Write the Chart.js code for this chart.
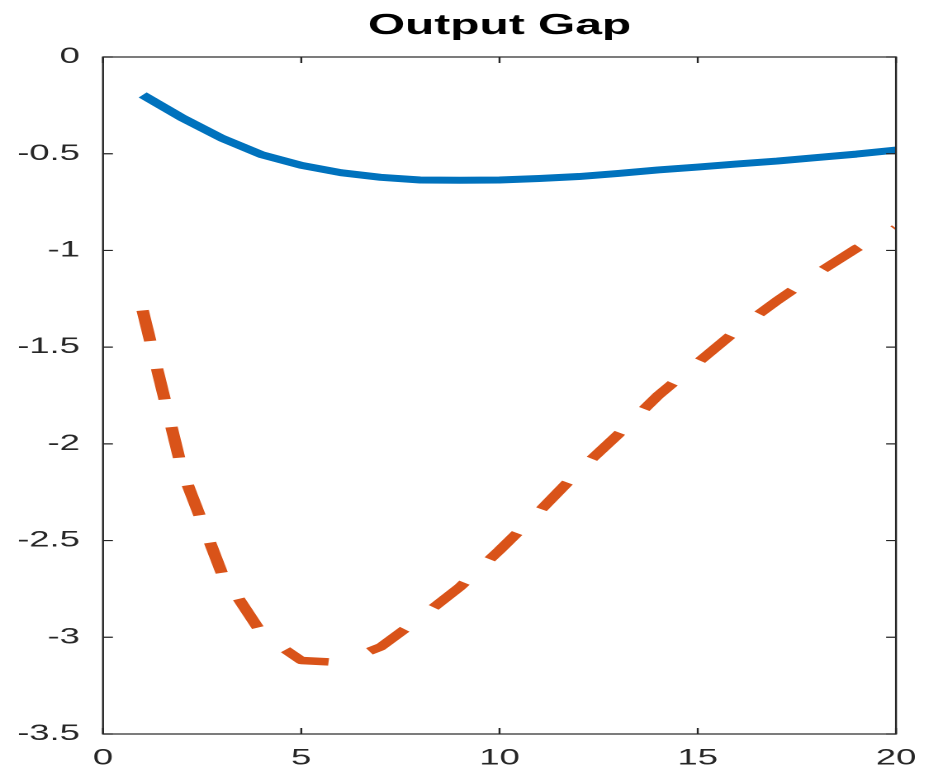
<!DOCTYPE html>
<html>
<head>
<meta charset="utf-8">
<script src="https://cdn.jsdelivr.net/npm/chart.js@4"></script>
<style>
  html, body { margin: 0; padding: 0; background: #fff; }
  #wrap { width: 938px; height: 771px; overflow: hidden; position: relative; }
  /* the reference figure is stretched sideways, so the chart is drawn narrow and widened */
  #chart { transform: scaleX(1.65141); transform-origin: 0 0; }
</style>
</head>
<body>
<div id="wrap"><canvas id="chart" width="568" height="771"></canvas></div>
<script>
const periods = [1, 2, 3, 4, 5, 6, 7, 8, 9, 10, 11, 12, 13, 14, 15, 16, 17, 18, 19, 20];
const gapBlue = [-0.196, -0.315, -0.42, -0.505, -0.56, -0.598, -0.622, -0.636, -0.637, -0.636,
                 -0.628, -0.618, -0.602, -0.584, -0.569, -0.553, -0.538, -0.52, -0.502, -0.481];
const gapOrange = [-1.31, -2.14, -2.67, -2.98, -3.12, -3.13, -3.05, -2.9, -2.74, -2.55,
                   -2.35, -2.14, -1.95, -1.75, -1.58, -1.41, -1.26, -1.12, -0.99, -0.885];
const xTicks = [0, 5, 10, 15, 20];
const yTicks = [0, -0.5, -1, -1.5, -2, -2.5, -3, -3.5];
const chartTitle = "Output Gap";

const axisColor = "#262626";
const tickFont = { family: "'Liberation Sans', Arial, sans-serif", size: 22 };

// MATLAB-like box with ticks pointing inwards, plus the title
const boxPlugin = {
  id: "box",
  afterDraw(chart) {
    const { ctx, chartArea: a, scales } = chart;
    ctx.save();
    ctx.strokeStyle = axisColor;
    ctx.lineWidth = 1.2;
    ctx.beginPath();
    xTicks.forEach((v) => {
      const px = scales.x.getPixelForValue(v);
      ctx.moveTo(px, a.bottom);
      ctx.lineTo(px, a.bottom - 6);
      ctx.moveTo(px, a.top);
      ctx.lineTo(px, a.top + 6);
    });
    yTicks.forEach((v) => {
      const py = scales.y.getPixelForValue(v);
      ctx.moveTo(a.left, py);
      ctx.lineTo(a.left + 6, py);
      ctx.moveTo(a.right, py);
      ctx.lineTo(a.right - 6, py);
    });
    ctx.stroke();
    ctx.strokeRect(a.left, a.top, a.right - a.left, a.bottom - a.top);

    ctx.fillStyle = "#000";
    ctx.font = "bold 29px 'Liberation Sans', Arial, sans-serif";
    ctx.textAlign = "center";
    ctx.textBaseline = "alphabetic";
    ctx.fillText(chartTitle, (a.left + a.right) / 2, 34);
    ctx.restore();
  },
};

new Chart(document.getElementById("chart"), {
  type: "line",
  data: {
    datasets: [
      {
        label: "blue",
        data: periods.map((p, i) => ({ x: p, y: gapBlue[i] })),
        borderColor: "#0072BD",
        borderWidth: 7,
        borderCapStyle: "butt",
        borderJoinStyle: "round",
        pointRadius: 0,
        tension: 0,
        fill: false,
      },
      {
        label: "orange",
        data: periods.map((p, i) => ({ x: p, y: gapOrange[i] })),
        borderColor: "#D95319",
        borderWidth: 7.5,
        borderDash: [31, 28],
        borderCapStyle: "butt",
        borderJoinStyle: "round",
        pointRadius: 0,
        tension: 0,
        fill: false,
      },
    ],
  },
  options: {
    responsive: false,
    animation: false,
    devicePixelRatio: 2,
    layout: { padding: { top: 57, right: 25.43, left: 0, bottom: 0 } },
    plugins: {
      legend: { display: false },
      tooltip: { enabled: false },
      title: { display: false },
    },
    scales: {
      x: {
        type: "linear",
        min: 0,
        max: 20,
        afterBuildTicks: (scale) => {
          scale.ticks = xTicks.map((v) => ({ value: v }));
        },
        afterFit: (scale) => {
          scale.height = 37;
        },
        grid: { display: false },
        border: { display: false },
        ticks: {
          color: axisColor,
          padding: 3,
          maxRotation: 0,
          font: tickFont,
          callback: (v) => String(v),
        },
      },
      y: {
        type: "linear",
        min: -3.5,
        max: 0,
        afterBuildTicks: (scale) => {
          scale.ticks = yTicks.map((v) => ({ value: v }));
        },
        afterFit: (scale) => {
          scale.width = 62.37;
        },
        grid: { display: false },
        border: { display: false },
        ticks: {
          color: axisColor,
          padding: 6,
          font: tickFont,
          callback: (v) => String(v),
        },
      },
    },
  },
  plugins: [boxPlugin],
});
</script>
</body>
</html>
